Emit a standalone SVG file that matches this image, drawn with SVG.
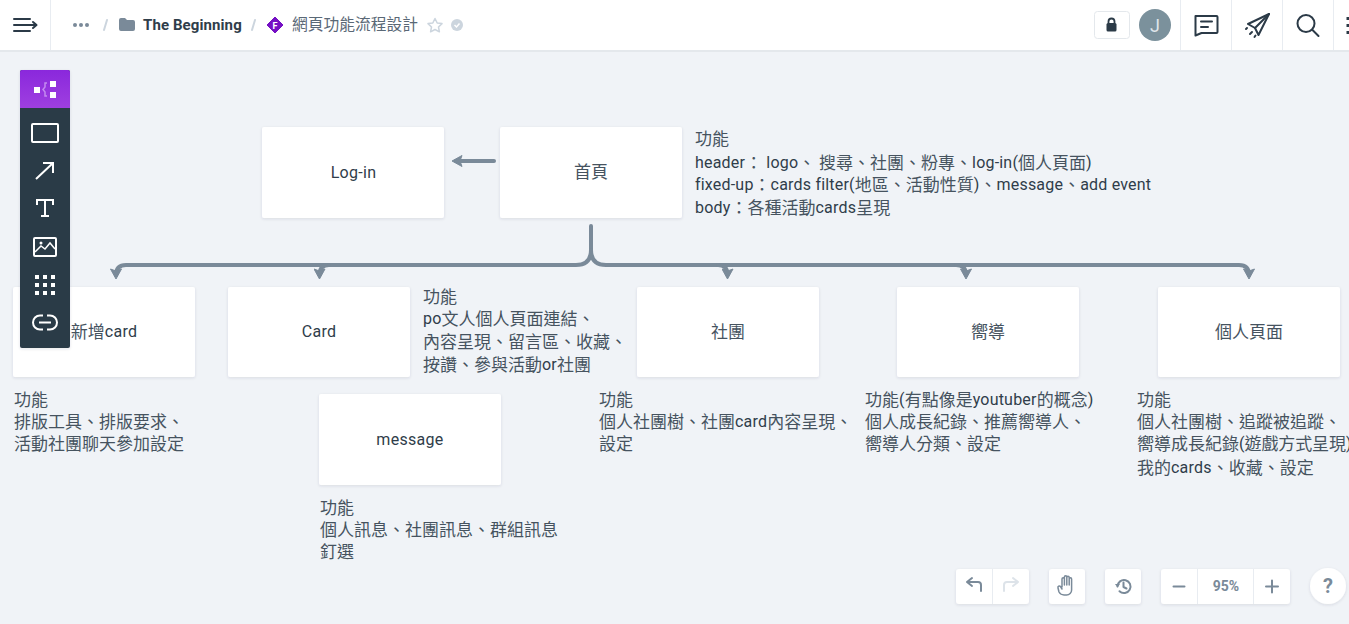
<svg xmlns="http://www.w3.org/2000/svg" width="1349" height="624" viewBox="0 0 1349 624" xml:lang="zh-TW" lang="zh-TW">
<defs>
<filter id="sh" x="-20%" y="-20%" width="140%" height="140%"><feDropShadow dx="0" dy="1" stdDeviation="1.5" flood-color="#2b3a47" flood-opacity="0.12"/></filter>
<linearGradient id="pg" x1="0" y1="0" x2="0" y2="1"><stop offset="0" stop-color="#8a28dc"/><stop offset="1" stop-color="#9f3fe0"/></linearGradient>
<marker id="ah" viewBox="0 0 12 12" refX="7" refY="6" markerWidth="12" markerHeight="12" markerUnits="userSpaceOnUse" orient="auto"><path d="M1 0.500L11 6L1 11.500L3 6Z" fill="#7a8a99" stroke="#7a8a99" stroke-linejoin="round"/></marker>
</defs>
<style>
text{font-family:Roboto,"Noto Sans CJK TC",sans-serif;fill:#2f3d4a;font-weight:400}
.t{font-size:16px;letter-spacing:.2px}
.n{font-size:16px;letter-spacing:.3px;text-anchor:middle}
.k{font-family:"Noto Sans CJK TC",sans-serif;font-size:17px;font-weight:400;letter-spacing:0;fill:#46535f;baseline-shift:-0.5px}
.box{fill:#fff;filter:url(#sh)}
.c{fill:none;stroke:#7a8a99;stroke-width:4;stroke-linecap:round;stroke-linejoin:round}
.w{fill:none;stroke:#fff;stroke-width:2}
.d{fill:none;stroke:#2b3a47;stroke-width:2;stroke-linecap:round;stroke-linejoin:round}
.g{fill:none;stroke:#7a8a99;stroke-width:2;stroke-linecap:round;stroke-linejoin:round}
.div{stroke:#e8ecf1;stroke-width:1}
</style>
<rect width="1349" height="624" fill="#f0f3f7"/>
<g id="connectors">
<path class="c" d="M494 161H456" marker-end="url(#ah)"/>
<path class="c" d="M591 226V250Q591 265 576 265H126Q116 265 116 275" marker-end="url(#ah)"/>
<path class="c" d="M591 250Q591 265 606 265H1239Q1249 265 1249 275" marker-end="url(#ah)"/>
<path class="c" d="M329 265Q319.500 265 319.500 275" marker-end="url(#ah)"/>
<path class="c" d="M718 265Q727.500 265 727.500 275" marker-end="url(#ah)"/>
<path class="c" d="M956 265Q966 265 966 275" marker-end="url(#ah)"/>
</g>
<g id="node-login"><rect class="box" x="262" y="127" width="182" height="91" rx="2"/><text class="n" x="353.500" y="178">Log-in</text></g>
<g id="node-home"><rect class="box" x="500" y="127" width="182" height="91" rx="2"/><text class="n" x="591" y="177"><tspan class="k">首頁</tspan></text></g>
<g id="note-home"><text class="t" x="695" y="144"><tspan class="k">功能</tspan></text><text class="t" x="695" y="168">header<tspan class="k">：</tspan> logo<tspan class="k">、 搜尋、社團、粉專、</tspan>log-in(<tspan class="k">個人頁面</tspan>)</text><text class="t" x="695" y="190">fixed-up<tspan class="k">：</tspan>cards filter(<tspan class="k">地區、活動性質</tspan>)<tspan class="k">、</tspan>message<tspan class="k">、</tspan>add event</text><text class="t" x="695" y="213">body<tspan class="k">：各種活動</tspan>cards<tspan class="k">呈現</tspan></text></g>
<g id="node-add"><rect class="box" x="13" y="287" width="182" height="90" rx="2"/><text class="n" x="104" y="337"><tspan class="k">新增</tspan>card</text></g>
<g id="note-add"><text class="t" x="14" y="405"><tspan class="k">功能</tspan></text><text class="t" x="14" y="427"><tspan class="k">排版工具、排版要求、</tspan></text><text class="t" x="14" y="449"><tspan class="k">活動社團聊天參加設定</tspan></text></g>
<g id="node-card"><rect class="box" x="228" y="287" width="182" height="90" rx="2"/><text class="n" x="319" y="337">Card</text></g>
<g id="note-card"><text class="t" x="423" y="302"><tspan class="k">功能</tspan></text><text class="t" x="423" y="324">po<tspan class="k">文人個人頁面連結、</tspan></text><text class="t" x="423" y="347"><tspan class="k">內容呈現、留言區、收藏、</tspan></text><text class="t" x="423" y="370"><tspan class="k">按讚、參與活動</tspan>or<tspan class="k">社團</tspan></text></g>
<g id="node-message"><rect class="box" x="319" y="394" width="182" height="91" rx="2"/><text class="n" x="410" y="445">message</text></g>
<g id="note-message"><text class="t" x="320" y="513"><tspan class="k">功能</tspan></text><text class="t" x="320" y="535"><tspan class="k">個人訊息、社團訊息、群組訊息</tspan></text><text class="t" x="320" y="557"><tspan class="k">釘選</tspan></text></g>
<g id="node-club"><rect class="box" x="637" y="287" width="182" height="90" rx="2"/><text class="n" x="728" y="337"><tspan class="k">社團</tspan></text></g>
<g id="note-club"><text class="t" x="599" y="405"><tspan class="k">功能</tspan></text><text class="t" x="599" y="427"><tspan class="k">個人社團樹、社團</tspan>card<tspan class="k">內容呈現、</tspan></text><text class="t" x="599" y="449"><tspan class="k">設定</tspan></text></g>
<g id="node-mentor"><rect class="box" x="897" y="287" width="182" height="90" rx="2"/><text class="n" x="988" y="337"><tspan class="k">嚮導</tspan></text></g>
<g id="note-mentor"><text class="t" x="865" y="405"><tspan class="k">功能</tspan>(<tspan class="k">有點像是</tspan>youtuber<tspan class="k">的概念</tspan>)</text><text class="t" x="865" y="427"><tspan class="k">個人成長紀錄、推薦嚮導人、</tspan></text><text class="t" x="865" y="449"><tspan class="k">嚮導人分類、設定</tspan></text></g>
<g id="node-profile"><rect class="box" x="1158" y="287" width="182" height="90" rx="2"/><text class="n" x="1249" y="337"><tspan class="k">個人頁面</tspan></text></g>
<g id="note-profile"><text class="t" x="1137" y="405"><tspan class="k">功能</tspan></text><text class="t" x="1137" y="427"><tspan class="k">個人社團樹、追蹤被追蹤、</tspan></text><text class="t" x="1137" y="449" style="letter-spacing:0"><tspan class="k">嚮導成長紀錄</tspan>(<tspan class="k" style="letter-spacing:-.1px">遊戲方式呈現</tspan>)</text><text class="t" x="1137" y="473"><tspan class="k">我的</tspan>cards<tspan class="k">、收藏、設定</tspan></text></g>

<g id="topbar">
<rect width="1349" height="50" fill="#fff"/><rect y="50" width="1349" height="2" fill="#e4e8ec"/>
<path class="div" d="M50.500 0V50M1180.500 0V50M1231.500 0V50M1282.500 0V50M1333.500 0V50"/>
<path d="M14 19H30M14 25H36M14 31H30" class="d"/><path d="M33 22L36.500 25L33 28" class="d"/>
<circle cx="75" cy="25" r="2" fill="#7a8a99"/><circle cx="81" cy="25" r="2" fill="#7a8a99"/><circle cx="87" cy="25" r="2" fill="#7a8a99"/>
<path d="M104 30L107 20M252 30L255 20" stroke="#ccd5de" stroke-width="2" stroke-linecap="round"/>
<path d="M119 20a2 2 0 0 1 2-2h4l2 2h6a2 2 0 0 1 2 2v7a2 2 0 0 1-2 2h-12a2 2 0 0 1-2-2z" fill="#7a8a99"/>
<text x="143" y="30" style="font-size:15px;font-weight:700;letter-spacing:.1px;fill:#2f3d4a">The Beginning</text>
<path d="M275 17L283 25L275 33L267 25Z" fill="#7510c4" stroke="#7510c4" stroke-linejoin="round"/>
<text x="275" y="28.500" text-anchor="middle" style="font-size:9px;font-weight:700;fill:#fff">F</text>
<text x="292" y="30" style="font-size:15.750px;font-weight:400;fill:#5a6876;font-family:'Noto Sans CJK TC',sans-serif">網頁功能流程設計</text>
<path d="M435 18.500L437.200 23L442 23.600L438.500 27L439.400 31.800L435 29.500L430.600 31.800L431.500 27L428 23.600L432.800 23Z" fill="none" stroke="#ccd5de" stroke-width="1.500" stroke-linejoin="round"/>
<circle cx="457" cy="25" r="6" fill="#ccd5de"/><path d="M454.500 25L456.500 27L459.500 23.500" fill="none" stroke="#fff" stroke-width="1.500"/>
<rect x="1094.500" y="11.500" width="35" height="27" rx="3" fill="#fff" stroke="#e4e8ec"/>
<rect x="1106.500" y="23" width="10" height="8.500" rx="1.500" fill="#2b3a47"/><path d="M1108.500 23.500v-2a3 3 0 0 1 6 0v2" fill="none" stroke="#2b3a47" stroke-width="1.800"/>
<circle cx="1155" cy="25" r="16" fill="#7b919c"/><text x="1155" y="31.500" text-anchor="middle" style="font-size:18px;fill:#dfe5ea">J</text>
<path class="d" d="M1195.500 16h21a1 1 0 0 1 1 1v15a1 1 0 0 1-1 1h-15l-6 2.500z"/><path class="d" d="M1201 21.500h11M1201 27h7"/>
<path class="d" d="M1269 14L1248 24L1255 28L1258.500 35Z"/><path class="d" d="M1269 14L1255 28M1247 28L1246 29M1252 32L1250 34M1255.500 35.500L1254.500 37"/>
<circle cx="1306" cy="23.500" r="8.500" class="d"/><path class="d" d="M1312.500 30L1318.500 36"/>
<path d="M1348 17v3M1348 24v3M1348 31v3" stroke="#2b3a47" stroke-width="3"/>
</g>

<g id="toolbar">
<rect x="20" y="70" width="50" height="278" rx="2" fill="#2b3a47" filter="url(#sh)"/>
<path d="M22 70H68a2 2 0 0 1 2 2V108H20V72a2 2 0 0 1 2-2Z" fill="url(#pg)"/>
<rect x="34" y="87" width="6" height="6" fill="#fff"/><rect x="50" y="81" width="6" height="6" fill="#fff"/><rect x="50" y="92" width="6" height="6" fill="#fff"/>
<path d="M47 83h-2v4l-2 2.500l2 2.500v4h2" fill="none" stroke="#c48af0" stroke-width="1.500"/>
<rect class="w" x="32" y="124" width="26" height="18" rx="1"/>
<path class="w" d="M36 179L53 163M43 163H53V173"/>
<path class="w" d="M37 205V200H53V205M45 200V216M41 216H49"/>
<rect class="w" x="34" y="238" width="22" height="18" rx="1"/><path class="w" style="stroke-width:1.500" d="M35 252L41 246L45 249L50 243L55 249"/><circle cx="41" cy="243" r="1.500" fill="#fff"/>
<g fill="#fff"><rect x="35" y="275" width="4" height="4"/><rect x="43" y="275" width="4" height="4"/><rect x="51" y="275" width="4" height="4"/><rect x="35" y="283" width="4" height="4"/><rect x="43" y="283" width="4" height="4"/><rect x="51" y="283" width="4" height="4"/><rect x="35" y="291" width="4" height="4"/><rect x="43" y="291" width="4" height="4"/><rect x="51" y="291" width="4" height="4"/></g>
<path class="w" d="M43 315.500h-3a7 7 0 0 0 0 14h3M47 315.500h3a7 7 0 0 1 0 14h-3M39 322.500h12"/>
</g>

<g id="controls">
<rect x="956" y="569" width="73" height="35" rx="3" fill="#fff" filter="url(#sh)"/><path class="div" d="M992.500 569V604"/>
<path class="g" d="M967 582L972 578M967 582L972 586M967 582H978a3 3 0 0 1 3 3V591"/>
<path fill="none" stroke="#dde3e9" stroke-width="2" stroke-linecap="round" stroke-linejoin="round" d="M1018 582L1013 578M1018 582L1013 586M1018 582H1007a3 3 0 0 0-3 3V591"/>
<rect x="1049" y="569" width="36" height="35" rx="3" fill="#fff" filter="url(#sh)"/>
<path class="g" style="stroke-width:1.500" d="M1062 587V579a1.200 1.200 0 0 1 2.400 0V585M1064.400 585V577a1.200 1.200 0 0 1 2.400 0V585M1066.800 585V577.500a1.200 1.200 0 0 1 2.400 0V585M1069.200 585V579a1.200 1.200 0 0 1 2.400 0V590a5 5 0 0 1-5 5H1064a6 6 0 0 1-5-3L1058 588a1.500 1.500 0 0 1 2.500-1.500L1062 589"/>
<rect x="1105" y="569" width="36" height="35" rx="3" fill="#fff" filter="url(#sh)"/>
<path class="g" d="M1117.500 586.500a6.500 6.500 0 1 1 2 4.700M1123.500 582.500V587L1126.500 588.500"/><path d="M1115 584H1120L1117.500 587.500Z" fill="#7a8a99"/>
<rect x="1161" y="569" width="129" height="35" rx="3" fill="#fff" filter="url(#sh)"/><path class="div" d="M1197.500 569V604M1253.500 569V604"/>
<path class="g" d="M1173.500 586.500H1184.500M1266 586.500H1278M1272 580.500V592.500"/>
<text x="1226" y="591" text-anchor="middle" style="font-size:14px;font-weight:700;fill:#7a8a99">95%</text>
<circle cx="1328" cy="586" r="18" fill="#fff" filter="url(#sh)"/><text x="1328" y="593" text-anchor="middle" style="font-size:20px;font-weight:700;fill:#7a8a99">?</text>
</g>
</svg>
